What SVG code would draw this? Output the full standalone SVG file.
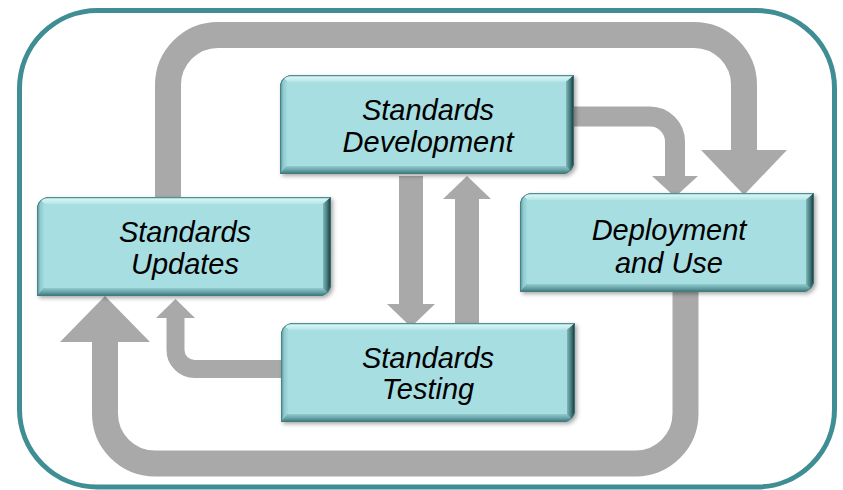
<svg xmlns="http://www.w3.org/2000/svg" xmlns:xlink="http://www.w3.org/1999/xlink" width="843" height="490" viewBox="0 0 843 490">
  <style>
    .frame { fill: #ffffff; stroke: #3F8E93; stroke-width: 5; }
    .band { fill: none; stroke: #A9A9A9; }
    .head { fill: #A9A9A9; stroke: none; }
    .t { font-family: "Liberation Sans", Arial, sans-serif; font-style: italic; font-size: 29px; fill: #000000; text-anchor: middle; }
  </style>
  <defs>
    <clipPath id="bc">
      <path d="M12 0H294V87A12 12 0 0 1 282 99H0V12A12 12 0 0 1 12 0Z"/>
    </clipPath>
    <linearGradient id="gTop" x1="0" y1="0" x2="0" y2="1">
      <stop offset="0" stop-color="#7FB9BC"/>
      <stop offset="0.35" stop-color="#D6F3F4"/>
      <stop offset="1" stop-color="#B3E5E7"/>
    </linearGradient>
    <linearGradient id="gLeft" x1="0" y1="0" x2="1" y2="0">
      <stop offset="0" stop-color="#4D8B8F"/>
      <stop offset="0.45" stop-color="#8FCACD"/>
      <stop offset="1" stop-color="#A4DADD"/>
    </linearGradient>
    <linearGradient id="gRight" x1="0" y1="0" x2="1" y2="0">
      <stop offset="0" stop-color="#7FB7BA"/>
      <stop offset="0.6" stop-color="#3D6F72"/>
      <stop offset="1" stop-color="#142E30"/>
    </linearGradient>
    <linearGradient id="gBot" x1="0" y1="0" x2="0" y2="1">
      <stop offset="0" stop-color="#93CCCF"/>
      <stop offset="0.6" stop-color="#5F9B9F"/>
      <stop offset="1" stop-color="#3A6E71"/>
    </linearGradient>
    <filter id="sh" x="-5%" y="-10%" width="115%" height="130%">
      <feDropShadow dx="2" dy="2" stdDeviation="2" flood-color="#000000" flood-opacity="0.35"/>
    </filter>
    <g id="box">
      <g clip-path="url(#bc)">
        <rect width="294" height="99" fill="#4F8F93"/>
        <polygon points="0,0 294,0 286,7 7,7" fill="url(#gTop)"/>
        <polygon points="0,0 7,7 7,91 0,99" fill="url(#gLeft)"/>
        <polygon points="294,0 294,99 286,91 286,7" fill="url(#gRight)"/>
        <polygon points="0,99 294,99 286,91 7,91" fill="url(#gBot)"/>
        <rect x="7" y="7" width="279" height="84" fill="#A7DEE1"/>
        <path d="M12 0H294V87A12 12 0 0 1 282 99H0V12A12 12 0 0 1 12 0Z" fill="none" stroke="#3F7F83" stroke-width="1.5"/>
      </g>
    </g>
  </defs>

  <rect class="frame" x="19.5" y="10.5" width="815" height="476.5" rx="78" ry="78"/>

  <g id="connectors">
    <path class="band" stroke-width="26" d="M168 198V85A50 50 0 0 1 218 35H694A50 50 0 0 1 744 85V151"/>
    <polygon class="head" points="701,150 787,150 744,195"/>
    <path class="band" stroke-width="20" d="M572 116.5H650A25 25 0 0 1 675 141.5V177"/>
    <polygon class="head" points="652,176 698,176 675,197"/>
    <path class="band" stroke-width="24" d="M411 176V305"/>
    <polygon class="head" points="387,304 435,304 411,327"/>
    <path class="band" stroke-width="24" d="M467 325V198"/>
    <polygon class="head" points="443,199 491,199 467,176"/>
    <path class="band" stroke-width="18" d="M284 369H194.5A19 19 0 0 1 175.5 350V317"/>
    <polygon class="head" points="156,318 195,318 175.5,299"/>
    <path class="band" stroke-width="26" d="M685.5 290V413.5A50 50 0 0 1 635.5 463.5H155A50 50 0 0 1 105 413.5V341"/>
    <polygon class="head" points="60,342 150,342 105,296"/>
  </g>

  <g id="node-development">
    <use href="#box" xlink:href="#box" x="280" y="75" filter="url(#sh)"/>
    <text class="t" x="428" y="120">Standards</text>
    <text class="t" x="428" y="152">Development</text>
  </g>
  <g id="node-updates">
    <use href="#box" xlink:href="#box" x="37" y="197" filter="url(#sh)"/>
    <text class="t" x="185" y="242">Standards</text>
    <text class="t" x="185" y="274">Updates</text>
  </g>
  <g id="node-testing">
    <use href="#box" xlink:href="#box" x="281" y="323" filter="url(#sh)"/>
    <text class="t" x="428" y="368">Standards</text>
    <text class="t" x="428" y="399">Testing</text>
  </g>
  <g id="node-deployment">
    <use href="#box" xlink:href="#box" x="520" y="193" filter="url(#sh)"/>
    <text class="t" x="669" y="240">Deployment</text>
    <text class="t" x="669" y="273">and Use</text>
  </g>
</svg>
